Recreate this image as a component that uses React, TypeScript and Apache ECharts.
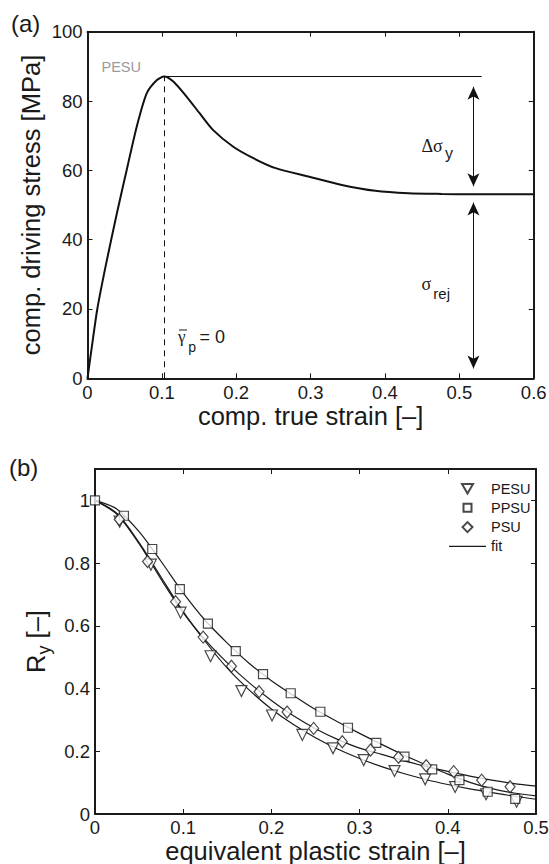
import React, { useEffect, useRef } from 'react';
import * as echarts from 'echarts';

// ---------- Panel (a): compressive driving stress vs true strain (PESU) ----------
const strainA = [0, 0.005, 0.0132, 0.025, 0.0393, 0.0527, 0.0662, 0.0796, 0.093, 0.1033, 0.1154, 0.1334, 0.151, 0.169, 0.196, 0.223, 0.252, 0.297, 0.342, 0.387, 0.4316, 0.4765, 0.52, 0.6];
const stressA = [0, 7.8, 20, 33, 47.4, 60.1, 72.6, 82.2, 86.0, 87.1, 85.6, 81.2, 76.4, 71.6, 66.8, 63.5, 60.7, 58.2, 55.8, 54.1, 53.4, 53.2, 53.1, 53.1];
const xTicksA = [0, 0.1, 0.2, 0.3, 0.4, 0.5, 0.6];
const yTicksA = [0, 20, 40, 60, 80, 100];
const peakStrain = 0.103;
const peakStress = 87.2;
const peakLineEnd = 0.53;
const arrowStrain = 0.519;
const arrowTipsTop = [86.0, 53.5];
const arrowTipsBottom = [52.6, 0.95];

// ---------- Panel (b): R_y vs equivalent plastic strain ----------
const pesuX = [0.028, 0.0634, 0.097, 0.131, 0.166, 0.2007, 0.2351, 0.2698, 0.3046, 0.3396, 0.3743, 0.4083, 0.4434, 0.478];
const pesuY = [0.932, 0.795, 0.642, 0.503, 0.392, 0.314, 0.252, 0.2094, 0.172, 0.137, 0.1106, 0.086, 0.063, 0.039];
const ppsuX = [0, 0.0328, 0.0649, 0.0962, 0.128, 0.1596, 0.1905, 0.2219, 0.2555, 0.2868, 0.3189, 0.3509, 0.3823, 0.4132, 0.4452, 0.4765];
const ppsuY = [1.0, 0.951, 0.845, 0.717, 0.607, 0.519, 0.446, 0.385, 0.326, 0.275, 0.227, 0.183, 0.142, 0.108, 0.071, 0.048];
const psuX = [0.0275, 0.0596, 0.0913, 0.1226, 0.1547, 0.186, 0.2177, 0.2479, 0.2804, 0.3124, 0.3441, 0.3755, 0.4067, 0.4384, 0.4706];
const psuY = [0.939, 0.805, 0.677, 0.564, 0.471, 0.39, 0.325, 0.273, 0.2305, 0.204, 0.1807, 0.154, 0.135, 0.108, 0.087];
const fitX = [0, 0.025, 0.05, 0.075, 0.1, 0.125, 0.15, 0.175, 0.2, 0.225, 0.25, 0.275, 0.3, 0.325, 0.35, 0.375, 0.4, 0.425, 0.45, 0.475, 0.5];
const fitPESU = [1.0, 0.958, 0.865, 0.755, 0.645, 0.55, 0.465, 0.395, 0.335, 0.285, 0.243, 0.207, 0.177, 0.151, 0.129, 0.11, 0.094, 0.08, 0.068, 0.057, 0.047];
const fitPPSU = [1.0, 0.972, 0.9, 0.805, 0.705, 0.617, 0.545, 0.48, 0.425, 0.378, 0.333, 0.294, 0.257, 0.222, 0.188, 0.157, 0.127, 0.101, 0.081, 0.067, 0.058];
const fitPSU = [1.0, 0.955, 0.862, 0.748, 0.642, 0.555, 0.482, 0.418, 0.362, 0.313, 0.272, 0.238, 0.21, 0.19, 0.17, 0.152, 0.136, 0.121, 0.108, 0.097, 0.089];
const xTicksB = [0, 0.1, 0.2, 0.3, 0.4, 0.5];
const yTicksB = [0, 0.2, 0.4, 0.6, 0.8, 1];
const yMaxB = 1.1;
const legendNames = ['PESU', 'PPSU', 'PSU', 'fit'];

const zip = (xs: number[], ys: number[]) => xs.map((x, i) => [x, ys[i]]);

const FONT = "'Liberation Sans', Arial, Helvetica, sans-serif";
const SERIF = "'Liberation Serif', 'DejaVu Serif', serif";
const INK = '#1a1a1a';

const fmt = (v: number) => String(Math.round(v * 10) / 10);

// legend icons drawn in a 37 x 10 box (invisible corner points keep the box size)
const BOX = 'M0,0 L0.01,0 M37,10 L36.99,10 ';
const ICON_TRI = 'path://' + BOX + 'M13,0.5 L24,0.5 L18.5,10 Z';
const ICON_SQ = 'path://' + BOX + 'M14.5,1 L22.5,1 L22.5,9 L14.5,9 Z';
const ICON_DIA = 'path://' + BOX + 'M13.5,5 L18.5,0 L23.5,5 L18.5,10 Z';
const ICON_LINE = 'path://M0,0 L37,0 L37,1.3 L0,1.3 Z';

function axisPair(gridIndex: number, ticks: number[], opts: any, isX: boolean) {
  const step = ticks[1] - ticks[0];
  const base = {
    gridIndex,
    type: 'value',
    min: ticks[0],
    max: opts.max ?? ticks[ticks.length - 1],
    interval: step,
    splitLine: { show: false },
    axisLine: { show: true, onZero: false, lineStyle: { color: INK, width: 2 } },
    axisTick: { show: true, inside: true, length: 5, lineStyle: { color: INK, width: 1 } },
  };
  const main = {
    ...base,
    position: isX ? 'bottom' : 'left',
    name: opts.name,
    nameLocation: 'middle',
    nameGap: opts.nameGap,
    nameMoveOverlap: false,
    nameTextStyle: { color: INK, fontSize: 25.5, fontFamily: FONT, ...(opts.nameTextStyle || {}) },
    axisLabel: {
      show: true,
      color: INK,
      fontSize: 18.5,
      fontFamily: FONT,
      margin: opts.margin ?? 5,
      formatter: opts.formatter || fmt,
    },
  };
  const twin = {
    ...base,
    position: isX ? 'top' : 'right',
    axisLabel: { show: false },
  };
  return [main, twin];
}

export default function App() {
  const ref = useRef<HTMLDivElement>(null);

  useEffect(() => {
    if (!ref.current) return;
    const chart = echarts.init(ref.current, undefined, { renderer: 'svg' });

    const [xa, xa2] = axisPair(0, xTicksA, { name: 'comp. true strain [–]', nameGap: 25 }, true);
    const [ya, ya2] = axisPair(0, yTicksA, { name: 'comp. driving stress [MPa]', nameGap: 44 }, false);
    const [xb, xb2] = axisPair(1, xTicksB, { name: 'equivalent plastic strain [–]', nameGap: 23.8, margin: 4 }, true);
    const [yb, yb2] = axisPair(
      1,
      yTicksB,
      {
        max: yMaxB,
        name: '{r|R}{s|y}{r| [–]}',
        nameGap: 46,
        formatter: (v: number) => (v > yTicksB[yTicksB.length - 1] + 1e-6 ? '' : fmt(v)),
        nameTextStyle: {
          rich: {
            r: { fontSize: 25.5, fontFamily: FONT, color: INK, lineHeight: 26 },
            s: { fontSize: 18, fontFamily: FONT, color: INK, lineHeight: 18, padding: [16, 0, 0, 0] },
          },
        },
      },
      false
    );

    const scatterStyle = { color: '#ffffff', borderColor: INK, borderWidth: 1.2 };
    const fitStyle = { color: INK, width: 1.2 };

    const option: any = {
      animation: false,
      backgroundColor: '#ffffff',
      textStyle: { fontFamily: FONT },
      grid: [
        { left: 87.5, top: 31.7, width: 446.2, height: 346.6, containLabel: false, outerBoundsMode: 'none' },
        { left: 95, top: 469, width: 441, height: 345, containLabel: false, outerBoundsMode: 'none' },
      ],
      xAxis: [xa, xa2, xb, xb2],
      yAxis: [ya, ya2, yb, yb2],
      legend: {
        data: [
          { name: legendNames[0], icon: ICON_TRI },
          { name: legendNames[1], icon: ICON_SQ },
          { name: legendNames[2], icon: ICON_DIA },
          { name: legendNames[3], icon: ICON_LINE, itemStyle: { color: INK, borderWidth: 0 } },
        ],
        orient: 'vertical',
        left: 443,
        top: 476,
        itemWidth: 37,
        itemHeight: 10,
        itemGap: 4.3,
        symbolRotate: 0,
        symbolKeepAspect: true,
        selectedMode: false,
        textStyle: { color: INK, fontSize: 14.5, fontFamily: FONT, lineHeight: 14 },
      },
      series: [
        {
          type: 'line',
          name: 'stress',
          xAxisIndex: 0,
          yAxisIndex: 0,
          data: zip(strainA, stressA),
          smooth: 0.25,
          symbol: 'none',
          lineStyle: { color: '#111', width: 2 },
          z: 3,
          markLine: {
            silent: true,
            symbol: ['none', 'none'],
            label: { show: false },
            animation: false,
            data: [
              [
                { coord: [peakStrain, peakStress], lineStyle: { color: '#111', width: 1, type: 'solid' } },
                { coord: [peakLineEnd, peakStress] },
              ],
              [
                { coord: [peakStrain, 0], lineStyle: { color: '#111', width: 1, type: [6, 5] } },
                { coord: [peakStrain, peakStress] },
              ],
            ],
          },
        },
        {
          type: 'line',
          name: 'arrows',
          xAxisIndex: 0,
          yAxisIndex: 0,
          data: [],
          markLine: {
            silent: true,
            symbol: ['arrow', 'arrow'],
            symbolSize: [9, 13],
            label: { show: false },
            animation: false,
            lineStyle: { color: '#111', width: 1, type: 'solid' },
            data: [
              [{ coord: [arrowStrain, arrowTipsTop[0] - 1.9] }, { coord: [arrowStrain, arrowTipsTop[1] + 1.9] }],
              [{ coord: [arrowStrain, arrowTipsBottom[0] - 1.9] }, { coord: [arrowStrain, arrowTipsBottom[1] + 1.9] }],
            ],
          },
        },
        {
          type: 'line', name: 'fit', xAxisIndex: 2, yAxisIndex: 2, data: zip(fitX, fitPESU),
          smooth: 0.3, symbol: 'none', lineStyle: fitStyle, itemStyle: { color: INK }, z: 2,
        },
        {
          type: 'line', name: 'fit', xAxisIndex: 2, yAxisIndex: 2, data: zip(fitX, fitPPSU),
          smooth: 0.3, symbol: 'none', lineStyle: fitStyle, itemStyle: { color: INK }, z: 2,
        },
        {
          type: 'line', name: 'fit', xAxisIndex: 2, yAxisIndex: 2, data: zip(fitX, fitPSU),
          smooth: 0.3, symbol: 'none', lineStyle: fitStyle, itemStyle: { color: INK }, z: 2,
        },
        {
          type: 'scatter', name: 'PESU', xAxisIndex: 2, yAxisIndex: 2, data: zip(pesuX, pesuY),
          symbol: 'triangle', symbolRotate: 180, symbolSize: 11, itemStyle: scatterStyle, z: 4,
        },
        {
          type: 'scatter', name: 'PPSU', xAxisIndex: 2, yAxisIndex: 2, data: zip(ppsuX, ppsuY),
          symbol: 'rect', symbolSize: 9, itemStyle: scatterStyle, z: 4,
        },
        {
          type: 'scatter', name: 'PSU', xAxisIndex: 2, yAxisIndex: 2, data: zip(psuX, psuY),
          symbol: 'diamond', symbolSize: [10, 12], itemStyle: scatterStyle, z: 4,
        },
      ],
      graphic: [
        { type: 'text', x: 11, y: 23.7, style: { text: '(a)', fontSize: 24, fontFamily: FONT, fill: INK, align: 'left', verticalAlign: 'middle' } },
        { type: 'text', x: 9, y: 467.1, style: { text: '(b)', fontSize: 24, fontFamily: FONT, fill: INK, align: 'left', verticalAlign: 'middle' } },
        { type: 'text', x: 101.5, y: 66.7, style: { text: 'PESU', fontSize: 14.5, fontFamily: FONT, fill: '#9a9a9a', align: 'left', verticalAlign: 'middle' } },
        { type: 'text', x: 421.5, y: 145.5, style: { text: 'Δσ', fontSize: 18, fontFamily: SERIF, fill: INK, align: 'left', verticalAlign: 'middle' } },
        { type: 'text', x: 445, y: 153.8, style: { text: 'y', fontSize: 16, fontFamily: FONT, fill: INK, align: 'left', verticalAlign: 'middle' } },
        { type: 'text', x: 421.5, y: 283.8, style: { text: 'σ', fontSize: 18, fontFamily: SERIF, fill: INK, align: 'left', verticalAlign: 'middle' } },
        { type: 'text', x: 433.3, y: 293.1, style: { text: 'rej', fontSize: 15, fontFamily: FONT, fill: INK, align: 'left', verticalAlign: 'middle' } },
        { type: 'text', x: 178, y: 336.1, style: { text: 'γ', fontSize: 17, fontFamily: SERIF, fill: INK, align: 'left', verticalAlign: 'middle' } },
        { type: 'line', shape: { x1: 179, y1: 330, x2: 187, y2: 330 }, style: { stroke: INK, lineWidth: 1 } },
        { type: 'text', x: 188.3, y: 346.9, style: { text: 'p', fontSize: 14, fontFamily: FONT, fill: INK, align: 'left', verticalAlign: 'middle' } },
        { type: 'text', x: 199.5, y: 337.1, style: { text: '= 0', fontSize: 18, fontFamily: FONT, fill: INK, align: 'left', verticalAlign: 'middle' } },
      ],
    };

    chart.setOption(option);
    return () => {
      chart.dispose();
    };
  }, []);

  return (
    <div
      ref={ref}
      style={{ position: 'absolute', left: 0, top: 0, width: 549, height: 864, background: '#fff' }}
    />
  );
}
